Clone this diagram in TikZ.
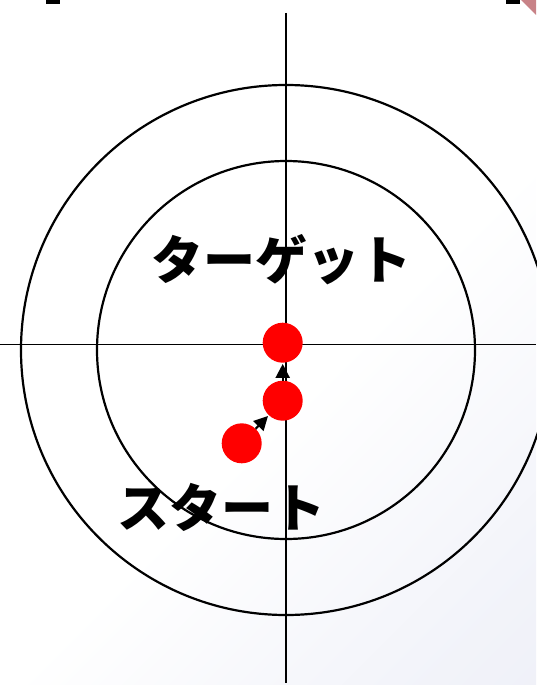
\documentclass[tikz,border=0pt]{standalone}
\usepackage{fontspec}
\newfontfamily\cjk{Noto Sans CJK JP}
\usetikzlibrary{arrows.meta}
\definecolor{bglav}{RGB}{234,236,246}
\definecolor{rosy}{RGB}{200,130,135}
\pgfdeclareverticalshading{bgshade}{100bp}{color(0bp)=(bglav); color(22bp)=(bglav!60!white); color(45bp)=(white); color(100bp)=(white)}
\tikzset{
  ring/.style={draw=black, line width=2.2pt},
  axis/.style={draw=black, line width=1.4pt},
  dot/.style={circle, fill=red, draw=none, minimum size=40pt, inner sep=0pt},
  arr/.style={draw=black, line width=2.2pt, -{Triangle[length=14pt,width=14pt]}, shorten >=1pt},
  lbl/.style={font=\cjk\bfseries\fontsize{52}{60}\selectfont, inner sep=0pt, text=black}
}
\begin{document}
\begin{tikzpicture}[x=1pt,y=-1pt]
\useasboundingbox (0,0) rectangle (536,685);
% background
\shade[shading=bgshade, shading angle=45] (0,0) rectangle (536,685);
% top cut-off fragments
\fill[rosy] (521,0) -- (536,0) -- (536,15) -- cycle;
\fill[black] (46,0) rectangle (60,4);
\fill[black] (506,0) rectangle (520,4);
% axes
\coordinate (vt) at (286,13);
\coordinate (vb) at (286,683);
\coordinate (hl) at (0,344.5);
\coordinate (hr) at (536,344.5);
\draw[axis] (vt) -- (vb);
\draw[axis] (hl) -- (hr);
% rings
\coordinate (c) at (286,350);
\draw[ring] (c) circle[radius=265];
\draw[ring] (c) circle[radius=189];
% labels
\node[lbl] (tgt) at (281.5,260) {ターゲット};
\node[lbl] (st) at (221,507) {スタート};
% dots
\node[dot] (d1) at (282.7,342.7) {};
\node[dot] (d2) at (282.7,400.7) {};
\node[dot] (d3) at (241.7,443.3) {};
\draw[arr] (d2) -- (d1);
\draw[arr] (d3) -- (d2);
\end{tikzpicture}
\end{document}
